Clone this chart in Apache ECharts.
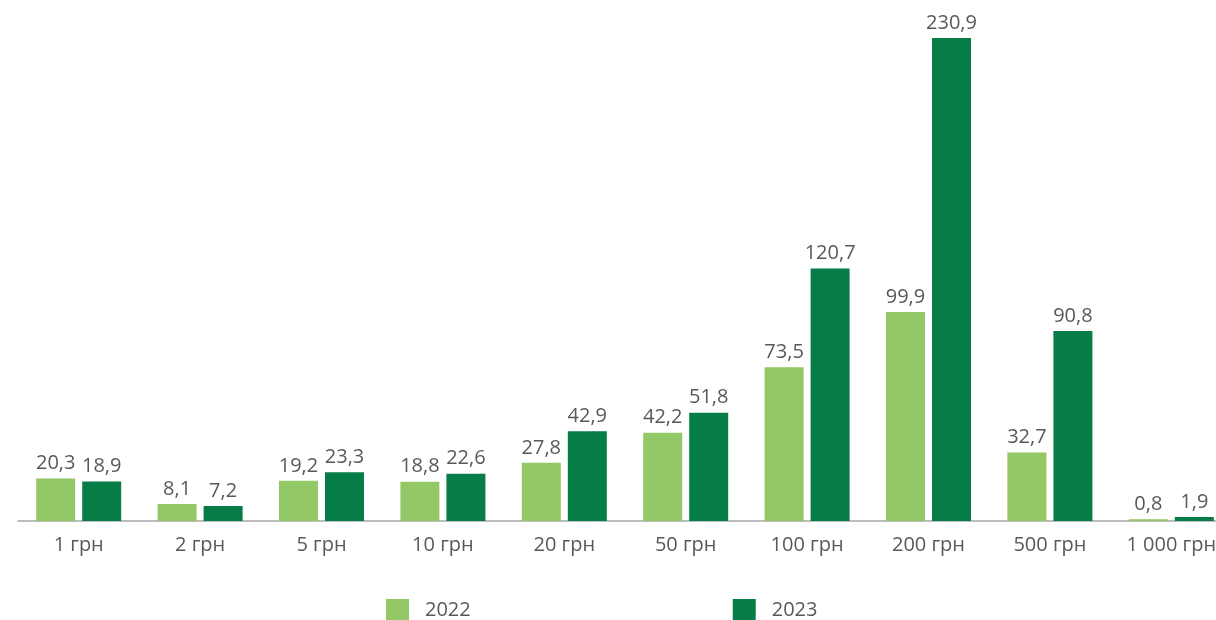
<!DOCTYPE html>
<html><head><meta charset="utf-8">
<script src="https://cdn.jsdelivr.net/npm/echarts@6/dist/echarts.min.js"></script>
<style>html,body{margin:0;padding:0;background:#fff;overflow:hidden;width:1216px;height:620px}#c{width:1232px;height:620px}</style>
</head><body><div id="c"></div>
<script>
var categories = ['1 грн','2 грн','5 грн','10 грн','20 грн','50 грн','100 грн','200 грн','500 грн','1 000 грн'];
var values2022 = [20.3, 8.1, 19.2, 18.8, 27.8, 42.2, 73.5, 99.9, 32.7, 0.8];
var values2023 = [18.9, 7.2, 23.3, 22.6, 42.9, 51.8, 120.7, 230.9, 90.8, 1.9];
var seriesNames = ['2022','2023'];

var chart = echarts.init(document.getElementById('c'));
var fontFam = '"Open Sans", sans-serif';
function fmt(p){ return String(p.value).replace('.', ','); }
chart.setOption({
  animation:false,
  textStyle:{fontFamily:fontFam},
  grid:{left:18, right:0, top:38, bottom:99, containLabel:false},
  legend:{
    top:599, left:386, itemWidth:23, itemHeight:22, itemGap:262, icon:'rect', padding:0,
    textStyle:{fontSize:20, color:'#595959', fontFamily:fontFam, padding:[0,0,0,11]},
    data:seriesNames
  },
  xAxis:{
    type:'category', data:categories,
    axisLine:{lineStyle:{color:'#A6A6A6', width:1.5}},
    axisTick:{show:false},
    axisLabel:{color:'#595959', fontSize:20, margin:14, interval:0}
  },
  yAxis:{type:'value', min:0, max:230.9, show:false, splitLine:{show:false}},
  series:[
    {name:seriesNames[0], type:'bar', data:values2022, barWidth:39, barGap:'18%',
     itemStyle:{color:'#92C865'},
     label:{show:true, position:'top', distance:5, color:'#595959', fontSize:20, formatter:fmt}},
    {name:seriesNames[1], type:'bar', data:values2023, barWidth:39,
     itemStyle:{color:'#067C47'},
     label:{show:true, position:'top', distance:5, color:'#595959', fontSize:20, formatter:fmt}}
  ]
});
</script></body></html>
